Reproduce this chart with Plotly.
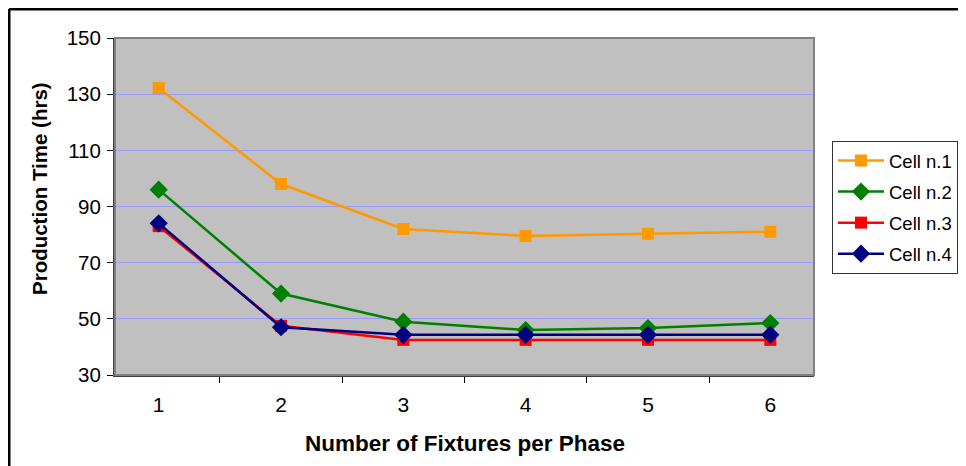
import plotly.graph_objects as go

fixtures = ["1", "2", "3", "4", "5", "6"]
cell1 = [132.2, 98, 82, 79.5, 80.3, 81]
cell2 = [96, 59, 49, 46, 46.7, 48.5]
cell3 = [83, 47.5, 42.5, 42.5, 42.5, 42.5]
cell4 = [84, 47, 44.3, 44.3, 44.3, 44.3]
series_names = ["Cell n.1", "Cell n.2", "Cell n.3", "Cell n.4"]
y_ticks = [30, 50, 70, 90, 110, 130, 150]
x_title = "Number of Fixtures per Phase"
y_title = "Production Time (hrs)"

colors = ["#FF9900", "#008000", "#FF0000", "#000080"]
symbols = ["square", "diamond", "square", "diamond"]
sizes = [12, 14, 12, 14]

# page body has an 8px margin; plot area in the page: x 115..814, y 38..375
L, T, PW, PH = 107, 30, 699, 337
B = T + PH

fig = go.Figure()
for name, vals, c, s, sz in zip(series_names, [cell1, cell2, cell3, cell4], colors, symbols, sizes):
    fig.add_trace(go.Scatter(
        x=fixtures, y=vals, name=name, mode="lines+markers", legendgroup=name,
        line=dict(color=c, width=2.5),
        marker=dict(symbol=s, size=sz, color=c, line=dict(width=0)),
    ))

fig.update_layout(
    width=966, height=466,
    margin=dict(l=L, r=966 - L - PW, t=T, b=466 - B, autoexpand=False),
    paper_bgcolor="white",
    plot_bgcolor="#C0C0C0",
    font=dict(family="Arial, Liberation Sans, sans-serif", size=18, color="black"),
    xaxis=dict(
        type="category", tickson="boundaries", ticks="outside", ticklen=6,
        tickcolor="black", showgrid=False, showline=True, linecolor="#404040", linewidth=2,
        tickfont=dict(size=21), ticklabelstandoff=10,
    ),
    yaxis=dict(
        range=[30, 150], tickvals=y_ticks, ticks="outside", ticklen=6, tickcolor="black",
        showgrid=True, gridcolor="#9999FF", gridwidth=1,
        showline=True, linecolor="#404040", linewidth=2, zeroline=False,
        tickfont=dict(size=20.5), ticklabelstandoff=2,
    ),
    legend=dict(
        x=(824 - L) / PW, y=(B - 133) / PH, xanchor="left", yanchor="top",
        bgcolor="white", bordercolor="#333333", borderwidth=1,
        font=dict(size=18.5), tracegroupgap=4, itemwidth=46,
    ),
    showlegend=True,
    annotations=[
        dict(text="<b>" + x_title + "</b>", xref="paper", yref="paper",
             x=0.5, y=-(435 - B) / PH, xanchor="center", yanchor="middle",
             showarrow=False, font=dict(size=22.5)),
        dict(text="<b>" + y_title + "</b>", xref="paper", yref="paper",
             x=(31 - L) / PW, y=(B - 181) / PH, xanchor="center", yanchor="middle",
             textangle=-90, showarrow=False, font=dict(size=20.5)),
    ],
)

# plot area border (top/right)
fig.add_shape(type="rect", xref="paper", yref="paper", x0=0, y0=0, x1=1, y1=1,
              line=dict(color="#808080", width=2), layer="above")
# outer frame (left and top edges)
fx = (1 - L) / PW
fy = 1 + (T - 1) / PH
fig.add_shape(type="line", xref="paper", yref="paper",
              x0=fx, x1=fx, y0=fy, y1=-(466 - B) / PH,
              line=dict(color="black", width=3))
fig.add_shape(type="line", xref="paper", yref="paper",
              x0=fx, x1=(966 - L) / PW, y0=fy, y1=fy,
              line=dict(color="black", width=3))

fig.write_html("out.html")
